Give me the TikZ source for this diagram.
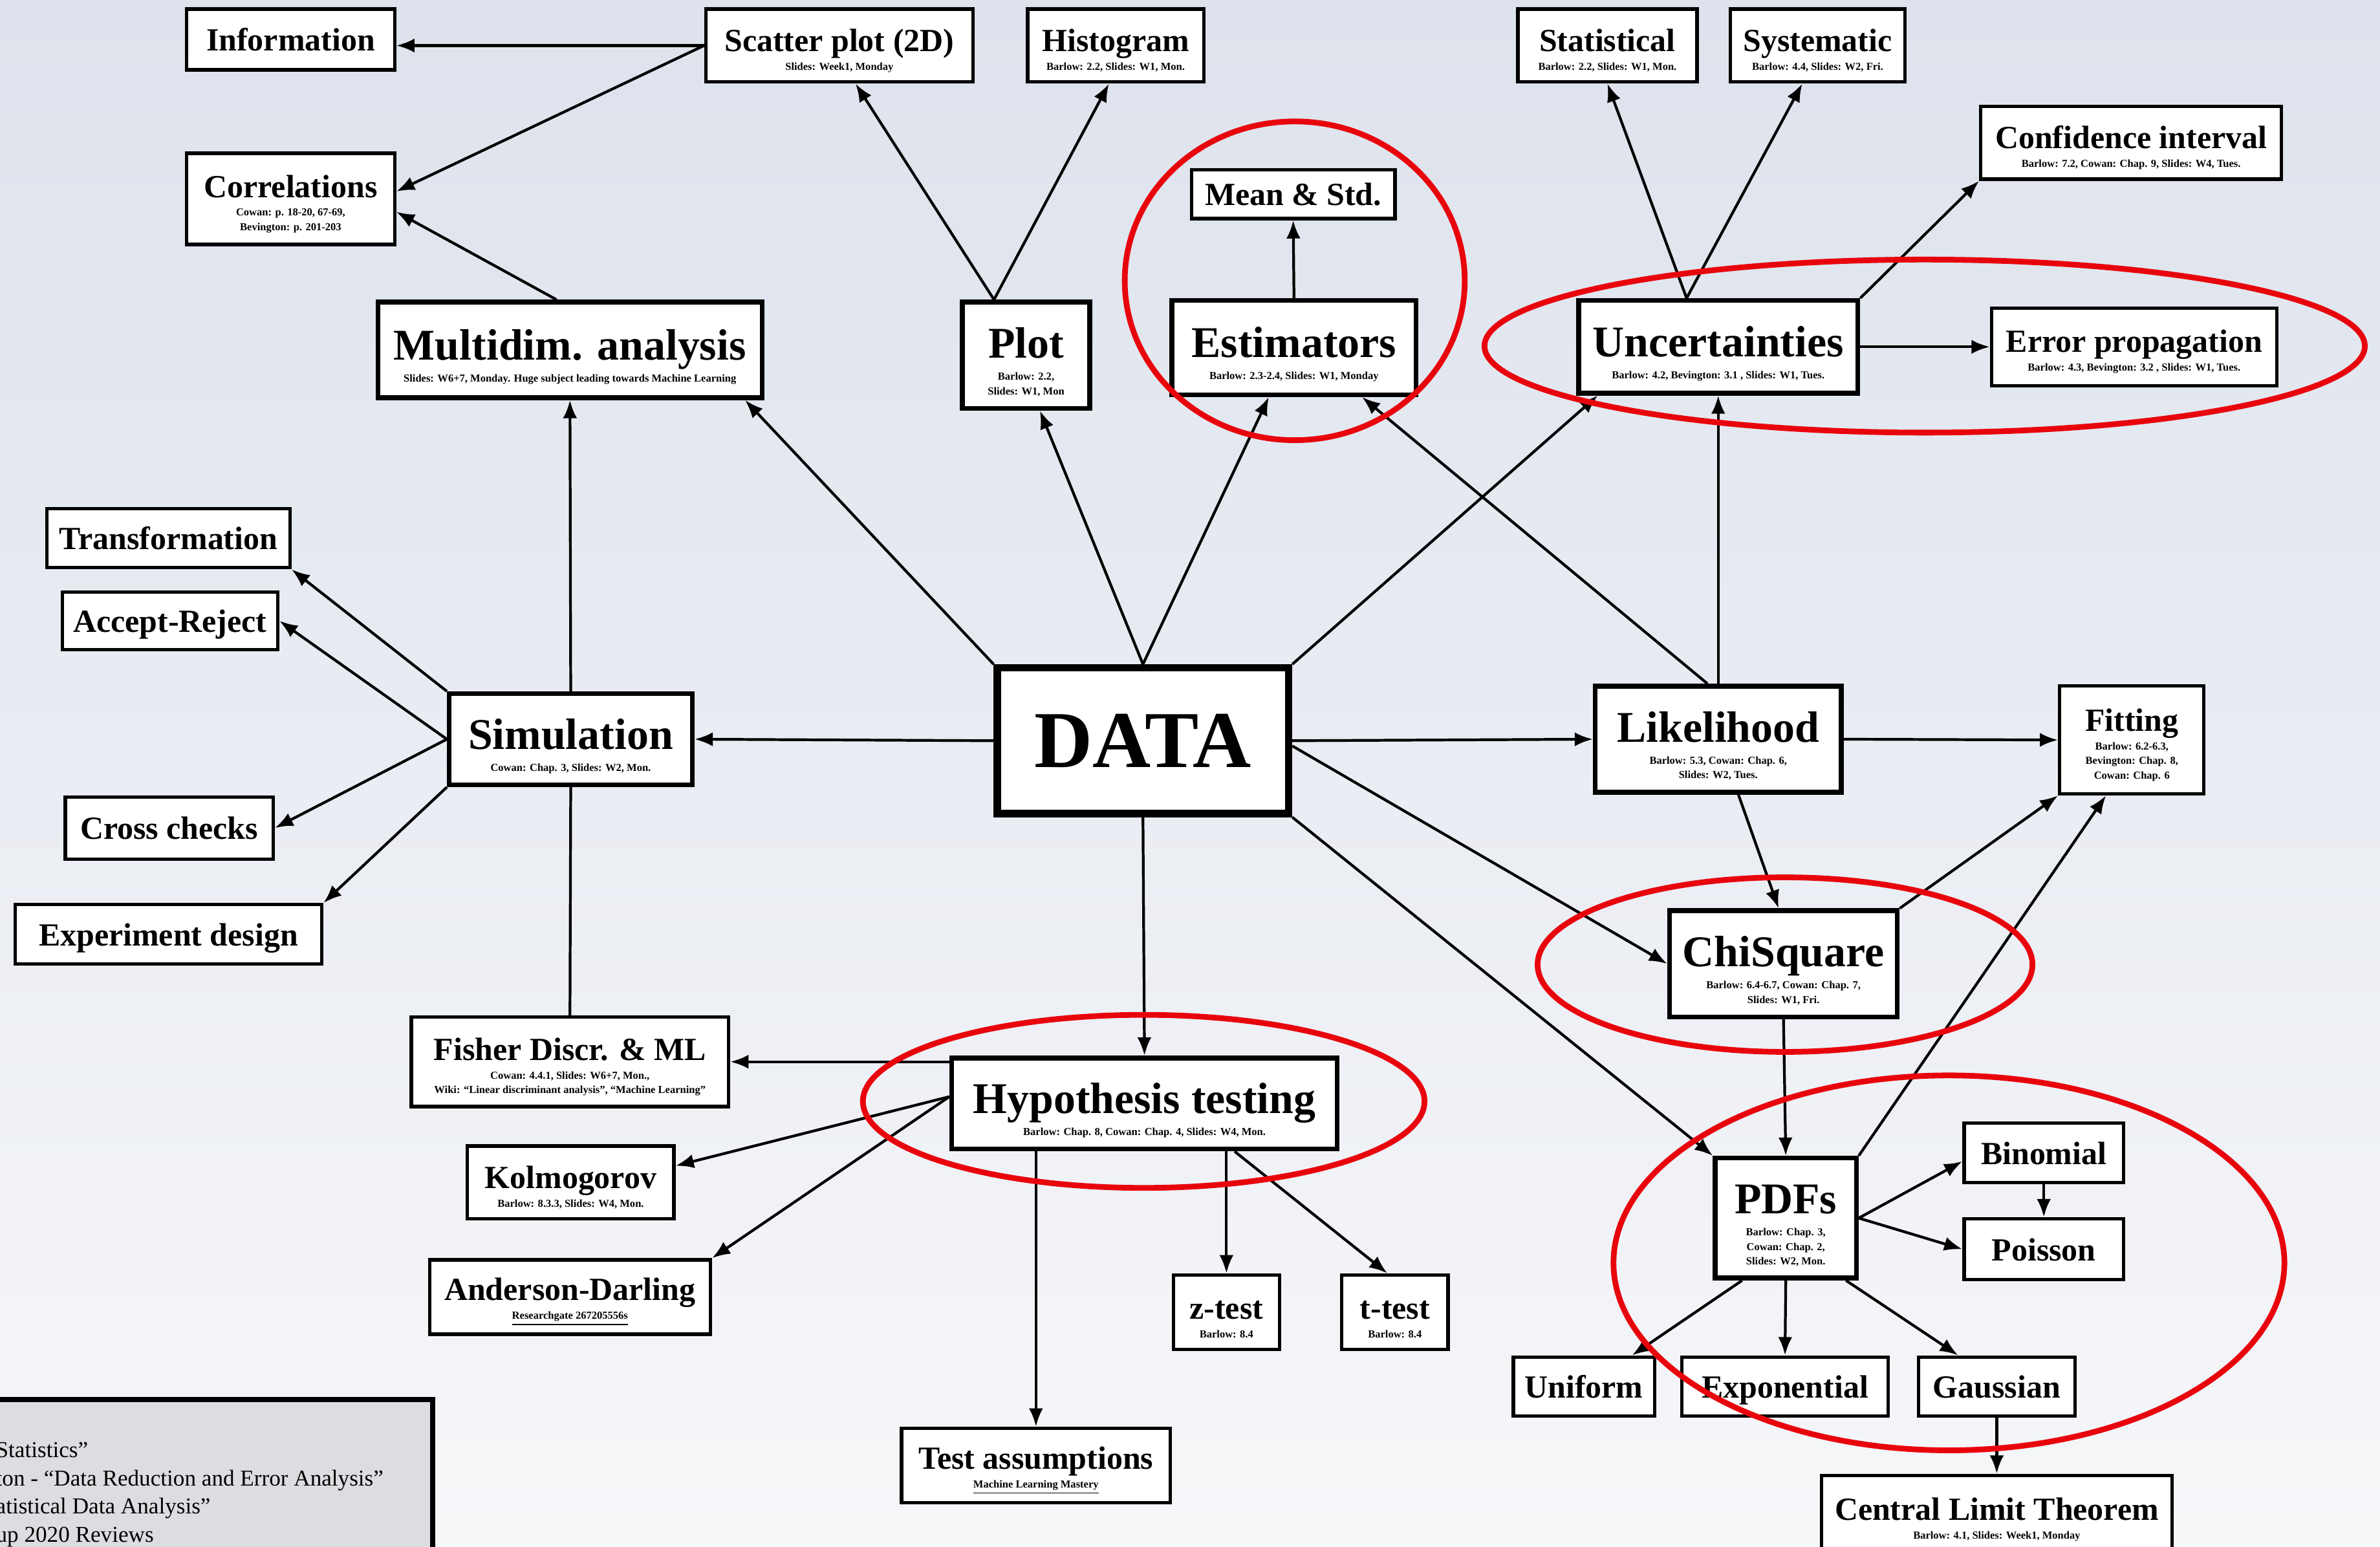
\documentclass[tikz,border=0pt]{standalone}
\usepackage{fontspec}
\setmainfont{Liberation Serif}
\usetikzlibrary{arrows.meta}
\definecolor{ringred}{RGB}{232,4,12}
\definecolor{bgtop}{RGB}{221,226,236}
\definecolor{bgbot}{RGB}{246,247,249}
\definecolor{refgray}{RGB}{220,221,224}
\newcommand{\ttl}[1]{{\fontsize{14.2}{16}\selectfont\rule{0pt}{1em}#1\rule[-0.28em]{0pt}{0.28em}}}
\newcommand{\bigttl}[1]{{\fontsize{19.3}{21}\selectfont\rule{0pt}{1em}#1\rule[-0.28em]{0pt}{0.28em}}}
\begin{document}
\begin{tikzpicture}
  [x=0.023469cm,y=-0.023469cm,
   box/.style={draw,fill=white,rectangle,align=center,line width=1.5pt,inner sep=1pt,
     font=\bfseries\fontsize{4.7}{6.4}\selectfont},
   solo/.style={box,font=\bfseries\fontsize{14.2}{16}\selectfont,text height=11pt,text depth=1pt},
   big/.style={box,line width=2.1pt},
   wh/.style 2 args={minimum width=#1*0.6678pt,minimum height=#2*0.6678pt},
   arr/.style={-{Latex[length=8pt,width=6.2pt]},line width=1.2pt},
   ring/.style={draw=ringred,line width=2.5pt}]
\useasboundingbox (0,0) rectangle (1568,1019);
\clip (0,0) rectangle (1568,1019);
\shade[top color=bgtop,bottom color=bgbot] (0,0) rectangle (1568,1019);

% top row
\node (info)[solo,wh={137}{40}] at (191.5,26) {Information};
\node (scatter)[box,wh={176}{48}] at (553,30) {\ttl{Scatter plot (2D)}\\Slides: Week1, Monday};
\node (histo)[box,wh={116}{48}] at (735,30) {\ttl{Histogram}\\Barlow: 2.2, Slides: W1, Mon.};
\node (corr)[box,wh={137}{60}] at (191.5,131) {\ttl{Correlations}\\Cowan: p. 18-20, 67-69,\\Bevington: p. 201-203};
\node (multi)[big,wh={253}{63}] at (375.5,230.5) {\bigttl{Multidim. analysis}\\Slides: W6+7, Monday. Huge subject leading towards Machine Learning};
\node (plot)[big,wh={84}{70}] at (676,234) {\bigttl{Plot}\\Barlow: 2.2,\\Slides: W1, Mon};
\node (mean)[solo,wh={134}{32}] at (852,128) {Mean \& Std.};
\node (estim)[big,wh={161}{62}] at (852.5,229) {\bigttl{Estimators}\\Barlow: 2.3-2.4, Slides: W1, Monday};
\node (stat)[box,wh={118}{48}] at (1059,30) {\ttl{Statistical}\\Barlow: 2.2, Slides: W1, Mon.};
\node (syst)[box,wh={115}{48}] at (1197.5,30) {\ttl{Systematic}\\Barlow: 4.4, Slides: W2, Fri.};
\node (conf)[box,wh={198}{48}] at (1404,94) {\ttl{Confidence interval}\\Barlow: 7.2, Cowan: Chap. 9, Slides: W4, Tues.};
\node (unc)[big,wh={184}{61}] at (1132,228.5) {\bigttl{Uncertainties}\\Barlow: 4.2, Bevington: 3.1 , Slides: W1, Tues.};
\node (errp)[box,wh={188}{51}] at (1406,228.5) {\ttl{Error propagation}\\Barlow: 4.3, Bevington: 3.2 , Slides: W1, Tues.};

% middle
\node (trans)[solo,wh={160}{39}] at (111,354.5) {Transformation};
\node (accrej)[solo,wh={142}{38}] at (112,409) {Accept-Reject};
\node (sim)[big,wh={160}{60}] at (376,487) {\bigttl{Simulation}\\Cowan: Chap. 3, Slides: W2, Mon.};
\node (cross)[solo,wh={137}{41}] at (111.5,545.5) {Cross checks};
\node (expd)[solo,wh={202}{39}] at (111,615.5) {Experiment design};
\node (data)[box,line width=3.2pt,wh={192}{96},font=\bfseries\fontsize{35.5}{40}\selectfont] at (753,488) {DATA};
\node (like)[big,wh={162}{70}] at (1132,487) {\bigttl{Likelihood}\\Barlow: 5.3, Cowan: Chap. 6,\\Slides: W2, Tues.};
\node (fit)[box,wh={95}{71}] at (1404.5,487.5) {\ttl{Fitting}\\Barlow: 6.2-6.3,\\Bevington: Chap. 8,\\Cowan: Chap. 6};
\node (chi)[big,wh={150}{70}] at (1175,635) {\bigttl{ChiSquare}\\Barlow: 6.4-6.7, Cowan: Chap. 7,\\Slides: W1, Fri.};

% bottom
\node (fisher)[box,wh={209}{59}] at (375.5,699.5) {\ttl{Fisher Discr. \& ML}\\Cowan: 4.4.1, Slides: W6+7, Mon.,\\Wiki: “Linear discriminant analysis”, “Machine Learning”};
\node (hyp)[big,wh={254}{60}] at (754,727) {\bigttl{Hypothesis testing}\\Barlow: Chap. 8, Cowan: Chap. 4, Slides: W4, Mon.};
\node (kolm)[box,wh={136}{48}] at (376,779) {\ttl{Kolmogorov}\\Barlow: 8.3.3, Slides: W4, Mon.};
\node (ander)[box,wh={185}{49}] at (375.5,854.5) {\ttl{Anderson-Darling}\\\underline{Researchgate 267205556s}};
\node (ztest)[box,wh={70}{49}] at (808,864.5) {\ttl{z-test}\\Barlow: 8.4};
\node (ttest)[box,wh={70}{49}] at (919,864.5) {\ttl{t-test}\\Barlow: 8.4};
\node (testas)[box,wh={177}{49}] at (682.5,965.5) {\ttl{Test assumptions}\\\underline{Machine Learning Mastery}};
\node (pdfs)[big,wh={93}{79}] at (1176.5,802.5) {\bigttl{PDFs}\\Barlow: Chap. 3,\\Cowan: Chap. 2,\\Slides: W2, Mon.};
\node (binom)[solo,wh={105}{39}] at (1346.5,759.5) {Binomial};
\node (poiss)[solo,wh={105}{40}] at (1346.5,823) {Poisson};
\node (unif)[solo,wh={93}{39}] at (1043.5,913.5) {Uniform};
\node (expo)[solo,wh={136}{39}] at (1176,913.5) {Exponential};
\node (gauss)[solo,wh={103}{39}] at (1315.5,913.5) {Gaussian};
\node (clt)[box,wh={231}{52}] at (1315.5,998) {\ttl{Central Limit Theorem}\\Barlow: 4.1, Slides: Week1, Monday};

% reference panel
\filldraw[fill=refgray,draw=black,line width=2.2pt] (-20,922) rectangle (285,1060);
\node (reftext)[anchor=north west,align=left,inner sep=0pt,font=\fontsize{10}{12.4}\selectfont] at (-3,950)
  {Statistics”\\ton - “Data Reduction and Error Analysis”\\atistical Data Analysis”\\up 2020 Reviews};

% arrows
\foreach \from/\to in {data.west/sim.east,data.north west/multi.-16,data.north/plot.-76,
    data.north/estim.-117,data.north east/unc.-158,data.east/like.west,data.-2/chi.west,
    data.south east/pdfs.north west,data.south/hyp.north}
  \draw[arr] (\from) -- (\to);
\foreach \from/\to in {sim.north/multi.south,sim.north west/trans.south east,sim.west/accrej.east,
    sim.west/cross.east,sim.south west/expd.north east,multi.105/corr.-7,scatter.west/corr.4,
    plot.120/scatter.-67,plot.120/histo.-100,estim.north/mean.south}
  \draw[arr] (\from) -- (\to);
\foreach \from/\to in {unc.123/stat.south,unc.123/syst.-112,unc.north east/conf.south west,
    unc.east/errp.west,like.north/unc.south,like.101/estim.-36,like.east/fit.west,
    like.-70/chi.95,chi.north east/fit.south west,chi.south/pdfs.north}
  \draw[arr] (\from) -- (\to);
\foreach \from/\to in {pdfs.north east/fit.-115,pdfs.east/binom.-174,pdfs.east/poiss.west,
    pdfs.-125/unif.33,pdfs.south/expo.north,pdfs.-46/gauss.141,binom.south/poiss.north,
    gauss.south/clt.north,hyp.178/kolm.9,hyp.178/ander.north east,hyp.-28/ttest.101}
  \draw[arr] (\from) -- (\to);
\draw[arr] (scatter.west) -- (info.east |- scatter.west);
\draw[arr] (hyp.west |- fisher.east) -- (fisher.east);
\draw[arr] (hyp.south -| testas.north) -- (testas.north);
\draw[arr] (hyp.south -| ztest.north) -- (ztest.north);
\draw[line width=1.2pt] (sim.south) -- (fisher.north);

% red rings
\foreach \cx/\cy/\rx/\ry in {853/185/112/105,1268/228/290/57,1176/635.5/163/57.5,
    753.5/725.6/185/57,1284/832/221/123.5}
  \draw[ring] (\cx,\cy) ellipse [x radius=\rx,y radius=\ry];
\end{tikzpicture}
\end{document}
